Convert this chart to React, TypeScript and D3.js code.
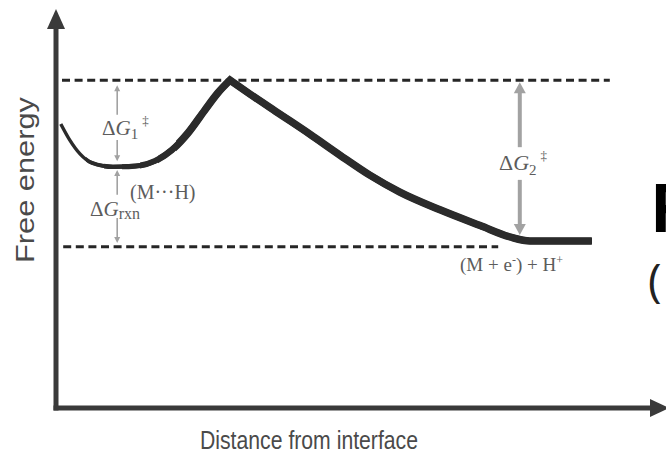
import React from "react";
import * as d3 from "d3";

// reaction coordinate (arbitrary units, 0-100)
const distance = [0.8, 2.3, 4.0, 6.0, 9.5, 13.2, 16.5, 19.3, 22.0, 24.8, 27.0, 29.0,
  32.3, 37.3, 42.3, 47.3, 52.3, 57.3, 64.0, 70.7, 75.7, 79.0, 84.0, 89.3];
const energy = [72.1, 68.0, 64.5, 62.2, 61.2, 61.4, 62.7, 65.5, 69.8, 75.6, 80.0, 83.2,
  79.7, 74.6, 69.5, 64.2, 59.1, 54.8, 50.3, 46.3, 43.4, 42.4, 42.4, 42.4];
const peakIndex = 11;

// dashed reference levels: transition state and products
const levelEnergy = [83.2, 40.9];
const levelStart = [1.0, 1.2];
const levelEnd = [92.3, 73.7];

// energy-gap arrows
const arrowNames = ["dG1", "dGrxn", "dG2"];
const arrowX = [10.2, 10.2, 77.3];
const arrowTop = [81.9, 60.4, 82.7];
const arrowBottom = [62.6, 41.9, 43.9];
const arrowGapTop = [74.4, 54.1, 66.2];
const arrowGapBottom = [68.0, 48.2, 57.9];

// line gets thicker along the path
const strokeFrom = [0, 5, 8, 11, 14, 17, 20];
const strokeWidth = [3.4, 3.9, 4.5, 5.1, 5.8, 6.6, 7.5];

const W = 666;
const H = 455;

export default function App() {
  const x = d3.scaleLinear().domain([0, 100]).range([56, 656]);
  const y = d3.scaleLinear().domain([0, 100]).range([408, 14]);

  const pts: [number, number][] = distance.map((d, i) => [d, energy[i]]);
  const line = d3.line<[number, number]>()
    .x(d => x(d[0]))
    .y(d => y(d[1]))
    .curve(d3.curveMonotoneX);
  const left = line(pts.slice(0, peakIndex + 1)) || "";
  const right = (line(pts.slice(peakIndex)) || "").replace(/^M/, "L");
  const curvePath = left + right;

  const serif = "'Liberation Serif', 'DejaVu Serif', serif";
  const sans = "'Liberation Sans', Arial, sans-serif";
  const gray = "#a2a2a2";
  const labelColor = "#5c5c5c";

  const arrowHead = (cx: number, tip: number, dir: number, w: number, l: number) =>
    `M${cx},${tip} L${cx - w / 2},${tip - dir * l} L${cx + w / 2},${tip - dir * l} Z`;

  return (
    <svg width={W} height={H} style={{ position: "absolute", left: 0, top: 0, background: "#fff" }}>
      <defs>
        {strokeFrom.map((f, i) => (
          <clipPath id={"seg" + i} key={i}>
            <rect x={x(f)} y={0} width={W} height={H} />
          </clipPath>
        ))}
      </defs>

      {/* dashed levels */}
      {levelEnergy.map((e, i) => (
        <line key={i} x1={x(levelStart[i])} x2={x(levelEnd[i])} y1={y(e)} y2={y(e)}
          stroke="#262626" strokeWidth={3} strokeDasharray="8 4.6" />
      ))}

      {/* gap arrows */}
      {arrowNames.map((n, i) => {
        const big = n === "dG2";
        const cx = x(arrowX[i]);
        const sw = big ? 4 : 1.6;
        const hw = big ? 12 : 6;
        const hl = big ? 11 : 6;
        return (
          <g key={n}>
            <line x1={cx} x2={cx} y1={y(arrowTop[i]) + (big ? hl - 1 : 2)} y2={y(arrowGapTop[i])}
              stroke={gray} strokeWidth={sw} />
            <line x1={cx} x2={cx} y1={y(arrowGapBottom[i])} y2={y(arrowBottom[i]) - (big ? hl - 1 : 2)}
              stroke={gray} strokeWidth={sw} />
            <path d={arrowHead(cx, y(arrowTop[i]), -1, hw, hl)} fill={gray} />
            <path d={arrowHead(cx, y(arrowBottom[i]), 1, hw, hl)} fill={gray} />
          </g>
        );
      })}

      {/* energy curve */}
      {strokeFrom.map((f, i) => (
        <path key={i} d={curvePath} fill="none" stroke="#2b2b2b" strokeWidth={strokeWidth[i]}
          strokeLinejoin="miter" strokeMiterlimit={6} strokeLinecap="butt"
          clipPath={`url(#seg${i})`} />
      ))}

      {/* axes */}
      <line x1={x(0)} x2={x(0)} y1={y(0) + 2.5} y2={26} stroke="#3a3a3a" strokeWidth={5} />
      <path d={`M${x(0)},9 L${x(0) - 9},29 L${x(0) + 9},29 Z`} fill="#3a3a3a" />
      <line x1={x(0) - 2.5} x2={652} y1={y(0)} y2={y(0)} stroke="#3a3a3a" strokeWidth={5} />
      <path d={`M669,${y(0)} L650,${y(0) - 9} L650,${y(0) + 9} Z`} fill="#3a3a3a" />

      {/* axis titles */}
      <text transform="translate(34,180) rotate(-90)" textAnchor="middle" fontFamily={sans}
        fontSize={25} fill="#4a4a4a" textLength={166} lengthAdjust="spacingAndGlyphs">Free energy</text>
      <text x={309} y={449} textAnchor="middle" fontFamily={sans} fontSize={26} fill="#4a4a4a"
        textLength={218} lengthAdjust="spacingAndGlyphs">Distance from interface</text>

      {/* annotations */}
      <text x={102} y={135} fontFamily={serif} fontSize={21} fill={labelColor}>
        Δ<tspan fontStyle="italic">G</tspan>
        <tspan fontSize={15} dy={4}>1</tspan>
        <tspan fontSize={13} dx={4} dy={-14}>‡</tspan>
      </text>
      <text x={130} y={199} fontFamily={serif} fontSize={20} fill={labelColor}>(M···H)</text>
      <text x={90} y={216} fontFamily={serif} fontSize={21} fill={labelColor}>
        Δ<tspan fontStyle="italic">G</tspan>
        <tspan fontSize={16} dy={3}>rxn</tspan>
      </text>
      <text x={499} y={170} fontFamily={serif} fontSize={22} fill={labelColor}>
        Δ<tspan fontStyle="italic">G</tspan>
        <tspan fontSize={15} dy={5}>2</tspan>
        <tspan fontSize={13} dx={4} dy={-15}>‡</tspan>
      </text>
      <text x={460} y={271} fontFamily={serif} fontSize={19} fill={labelColor}>
        (M + e<tspan fontSize={12} dy={-7}>-</tspan>
        <tspan dy={7}>) + H</tspan>
        <tspan fontSize={12} dy={-7}>+</tspan>
      </text>

      {/* slide text clipped at the right edge, as in the source */}
      <text x={650} y={232} fontFamily="'Open Sans', sans-serif" fontWeight={700} fontSize={66} fill="#000">F</text>
      <text x={648} y={297} fontFamily="'Open Sans', sans-serif" fontSize={46} fill="#222">(</text>
    </svg>
  );
}
